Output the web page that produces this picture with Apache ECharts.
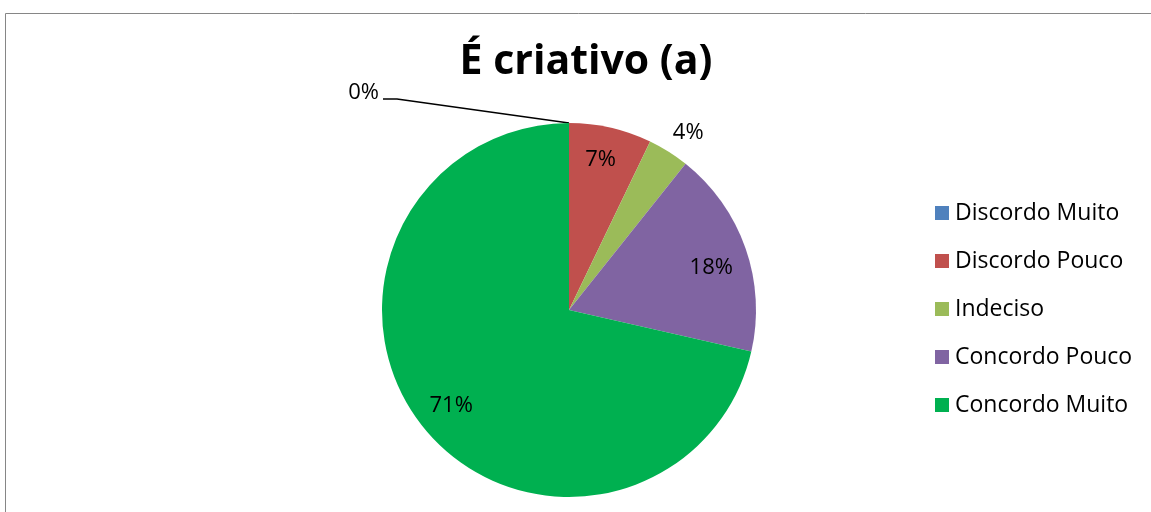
<!DOCTYPE html>
<html>
<head>
<meta charset="utf-8">
<script src="https://cdn.jsdelivr.net/npm/echarts@6/dist/echarts.min.js"></script>
<style>
  html, body { margin: 0; padding: 0; background: #ffffff; }
  #chart { width: 1151px; height: 512px; }
</style>
</head>
<body>
<div id="chart"></div>
<script>
// Survey answers for "É criativo (a)"
const categories = ['Discordo Muito', 'Discordo Pouco', 'Indeciso', 'Concordo Pouco', 'Concordo Muito'];
const counts = [0, 2, 1, 5, 20];
const colors = ['#4F81BD', '#C0504D', '#9BBB59', '#8064A2', '#00B050'];
// which answers carry their percentage inside the slice
const insideLabel = [false, true, false, true, true];

const FONT = '"Open Sans"';
const total = counts.reduce((a, b) => a + b, 0);
const pctText = v => Math.round(v / total * 100) + '%';

const CENTER = [569, 310];
const R = 187;

// small nudges for a few percentage labels
const labelNudge = { 1: [-2, -3], 2: [-7, -9], 3: [0, 8], 4: [0, 2] };

const chart = echarts.init(document.getElementById('chart'), null, { renderer: 'canvas' });

const mainData = categories.map((name, i) => ({
  name,
  value: counts[i],
  itemStyle: { color: colors[i] },
  label: { show: !insideLabel[i], offset: labelNudge[i] || [0, 0] },
  labelLine: { show: i === 0 }
}));

const ringData = categories.map((name, i) => ({
  name,
  value: counts[i],
  label: { show: insideLabel[i], offset: labelNudge[i] || [0, 0] }
}));

chart.setOption({
  animation: false,
  backgroundColor: '#ffffff',
  title: {
    text: 'É criativo (a)',
    left: 581,
    textAlign: 'center',
    top: 37,
    textStyle: { fontFamily: FONT, fontWeight: 'bold', fontSize: 41, color: '#000000' }
  },
  legend: {
    orient: 'vertical',
    left: 930,
    top: 196,
    itemWidth: 14,
    itemHeight: 14,
    itemGap: 24,
    icon: 'rect',
    data: categories,
    textStyle: { fontFamily: FONT, fontSize: 23, color: '#000000', lineHeight: 24, padding: [0, 0, 0, 1] }
  },
  graphic: [{
    type: 'rect',
    left: 3,
    top: 11,
    shape: { width: 1300, height: 700 },
    style: { fill: 'none', stroke: '#868686', lineWidth: 1 },
    silent: true,
    z: -10
  }],
  series: [
    {
      type: 'pie',
      center: CENTER,
      radius: R,
      startAngle: 90,
      clockwise: true,
      minAngle: 0,
      avoidLabelOverlap: false,
      stillShowZeroSum: true,
      itemStyle: { borderWidth: 0 },
      label: {
        position: 'outside',
        formatter: p => pctText(p.value),
        fontFamily: FONT,
        fontSize: 22,
        color: '#000000'
      },
      labelLine: {
        length: 12,
        length2: 0,
        lineStyle: { color: '#000000', width: 1.5 }
      },
      labelLayout: function (p) {
        if (p.dataIndex !== 0 || !p.labelLinePoints) return {};
        const a = p.labelLinePoints[0];
        return {
          x: a[0] - 190,
          y: a[1] - 30,
          align: 'right',
          verticalAlign: 'middle',
          labelLinePoints: [[a[0], a[1]], [a[0] - 172, a[1] - 24], [a[0] - 186, a[1] - 24]]
        };
      },
      emphasis: { disabled: true },
      data: mainData
    },
    {
      // transparent ring that places the inside percentages near the rim
      type: 'pie',
      center: CENTER,
      radius: [R * 0.68, R * 0.9],
      startAngle: 90,
      clockwise: true,
      silent: true,
      itemStyle: { color: 'rgba(0,0,0,0)', borderWidth: 0 },
      label: {
        position: 'inside',
        formatter: p => pctText(p.value),
        fontFamily: FONT,
        fontSize: 22,
        color: '#000000'
      },
      labelLine: { show: false },
      emphasis: { disabled: true },
      legendHoverLink: false,
      data: ringData
    }
  ]
});
</script>
</body>
</html>
